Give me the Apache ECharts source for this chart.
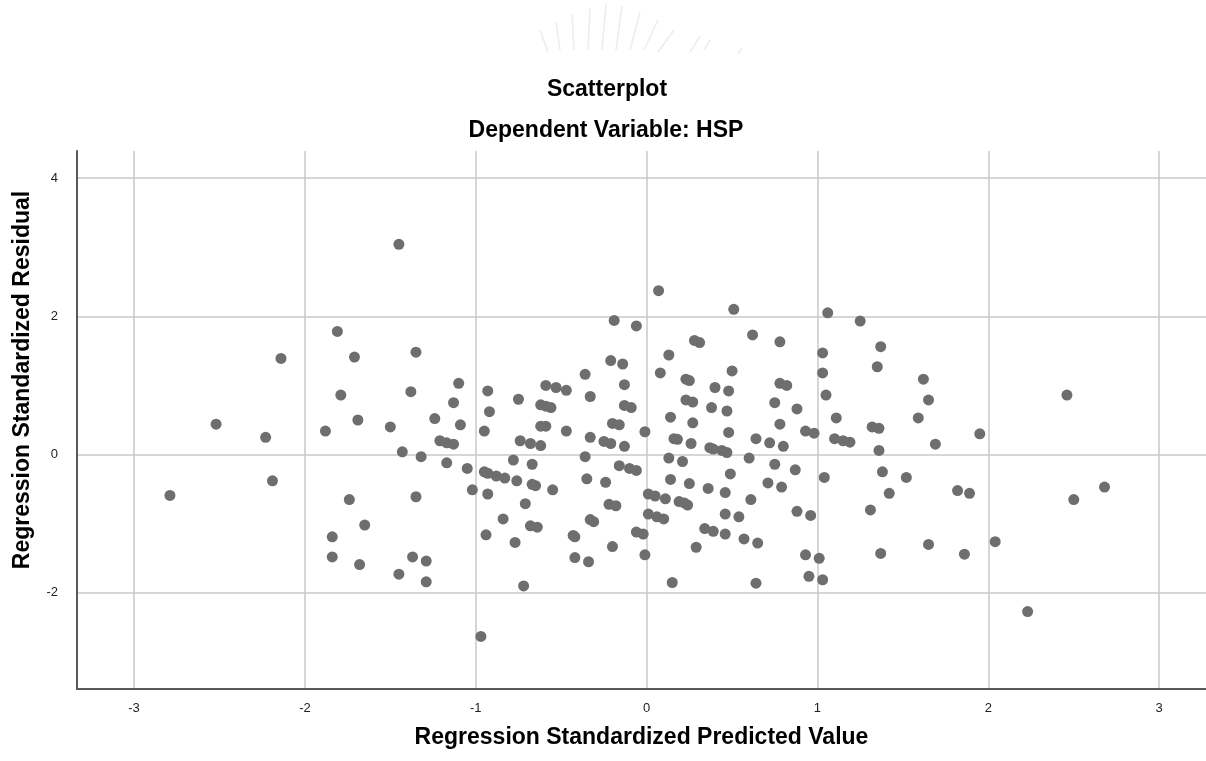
<!DOCTYPE html>
<html>
<head>
<meta charset="utf-8">
<title>Scatterplot</title>
<script src="https://cdn.jsdelivr.net/npm/echarts@6/dist/echarts.min.js"></script>
<style>
  html, body { margin: 0; padding: 0; background: #fff; }
  #chart { width: 1206px; height: 761px; }
</style>
</head>
<body>
<div id="chart"></div>
<script>
// Regression Standardized Predicted Value (x)
const predicted = [
  -1.81, -2.14, -1.71, -1.79, -1.69, -2.52, -1.88, -2.23, -2.19, -2.79,
  -1.74, -1.84, -1.84, -1.68, -1.45, -1.35, -1.38, -1.10, -1.13, -1.50,
  -1.24, -1.09, -0.19, -0.06, -0.93, -0.92, -0.75, -0.59, -0.53, -0.47,
  -0.36, -0.33, -0.21, -0.14, -0.13, -0.62, -0.59, -0.56, -0.13, -0.09,
  -0.20, -0.16, -0.59, -0.62, -0.95, -0.47, -0.33, -0.25, -0.21, -0.13,
  -0.74, -0.68, -0.62, -1.21, -1.17, -1.13, -1.43, -1.32, -1.17, -1.05,
  -0.95, -0.93, -0.88, -0.83, -0.78, -0.67, -0.76, -0.67, -0.65, -0.55,
  -1.02, -0.93, -1.35, -0.71, -0.36, -0.35, -0.24, -0.16, -0.10, -0.06,
  -0.22, -0.18, -0.33, -0.31, -1.65, -0.84, -0.68, -0.64, -0.94, -0.77,
  -0.43, -0.42, -0.20, -0.06, -0.02, -1.37, -1.29, -1.45, -1.29, -0.42,
  -0.34, -0.72, -0.97, 0.07, 0.51, 1.06, 1.25, 0.28, 0.31, 0.62,
  0.78, 0.13, 0.08, 0.23, 0.25, 0.50, 0.40, 0.48, 0.78, 0.82,
  1.03, 1.37, 1.35, 1.03, 1.05, 0.23, 0.27, 0.38, 0.47, 0.75,
  0.88, 0.14, 0.27, 0.78, 1.11, 1.32, 1.36, 1.59, 1.62, -0.01,
  0.48, 0.93, 0.98, 0.16, 0.18, 0.26, 0.37, 0.39, 0.44, 0.47,
  0.64, 0.72, 0.80, 1.10, 1.15, 1.19, 1.36, 0.13, 0.21, 0.14,
  0.25, 0.36, 0.49, 0.46, 0.60, 0.61, 0.71, 0.79, 0.75, 0.87,
  1.04, 1.38, 1.52, 1.42, 1.31, 0.01, 0.05, 0.11, 0.19, 0.22,
  0.24, 0.01, 0.06, 0.10, 0.46, 0.54, 0.88, 0.96, 0.34, 0.39,
  0.46, 0.57, 0.65, 0.29, -0.01, 0.93, 1.01, 1.37, 0.95, 1.03,
  0.15, 0.64, 1.65, 2.46, 1.95, 1.69, 1.82, 1.89, 2.68, 2.50,
  1.65, 1.86, 2.04, 2.23
]

// Regression Standardized Residual (y)
const residual = [
  1.78, 1.39, 1.41, 0.86, 0.50, 0.44, 0.34, 0.25, -0.38, -0.59,
  -0.65, -1.19, -1.48, -1.59, 3.04, 1.48, 0.91, 1.03, 0.75, 0.40,
  0.52, 0.43, 1.94, 1.86, 0.92, 0.62, 0.80, 1.00, 0.97, 0.93,
  1.16, 0.84, 1.36, 1.31, 1.01, 0.72, 0.70, 0.68, 0.71, 0.68,
  0.45, 0.43, 0.41, 0.41, 0.34, 0.34, 0.25, 0.19, 0.16, 0.12,
  0.20, 0.16, 0.13, 0.20, 0.17, 0.15, 0.04, -0.03, -0.12, -0.20,
  -0.25, -0.27, -0.31, -0.34, -0.08, -0.14, -0.38, -0.43, -0.45, -0.51,
  -0.51, -0.57, -0.61, -0.71, -0.03, -0.35, -0.40, -0.16, -0.20, -0.23,
  -0.72, -0.74, -0.94, -0.97, -1.02, -0.93, -1.03, -1.05, -1.16, -1.27,
  -1.17, -1.19, -1.33, -1.12, -1.15, -1.48, -1.54, -1.73, -1.84, -1.49,
  -1.55, -1.90, -2.63, 2.37, 2.10, 2.05, 1.93, 1.65, 1.62, 1.73,
  1.63, 1.44, 1.18, 1.09, 1.07, 1.21, 0.97, 0.92, 1.03, 1.00,
  1.47, 1.56, 1.27, 1.18, 0.86, 0.79, 0.76, 0.68, 0.63, 0.75,
  0.66, 0.54, 0.46, 0.44, 0.53, 0.40, 0.38, 0.53, 1.09, 0.33,
  0.32, 0.34, 0.31, 0.23, 0.22, 0.16, 0.10, 0.08, 0.06, 0.03,
  0.23, 0.17, 0.12, 0.23, 0.20, 0.18, 0.06, -0.05, -0.10, -0.36,
  -0.42, -0.49, -0.28, -0.55, -0.05, -0.65, -0.41, -0.47, -0.14, -0.22,
  -0.33, -0.25, -0.33, -0.56, -0.80, -0.57, -0.60, -0.64, -0.68, -0.70,
  -0.73, -0.86, -0.90, -0.93, -0.86, -0.90, -0.82, -0.88, -1.07, -1.11,
  -1.15, -1.22, -1.28, -1.34, -1.45, -1.45, -1.50, -1.43, -1.76, -1.81,
  -1.85, -1.86, 0.79, 0.86, 0.30, 0.15, -0.52, -0.56, -0.47, -0.65,
  -1.30, -1.44, -1.26, -2.27
]

const xTicks = [-3, -2, -1, 0, 1, 2, 3]
const yTicks = [-2, 0, 2, 4]

const fontFamily = '"Liberation Sans", Arial, sans-serif'

// faint watermark strokes at the top (background decoration only)
const watermark = [
  [[548, 52], [540, 30]], [[560, 50], [556, 22]], [[574, 50], [572, 14]],
  [[588, 50], [590, 8]], [[602, 50], [606, 4]], [[616, 50], [622, 6]],
  [[630, 50], [640, 12]], [[644, 50], [658, 20]], [[658, 52], [674, 30]],
  [[690, 52], [700, 36]], [[704, 50], [710, 40]], [[738, 54], [742, 48]]
].map(pts => ({
  type: 'polyline',
  silent: true,
  shape: { points: pts },
  style: { stroke: '#ececec', lineWidth: 1.5 }
}))

const chart = echarts.init(document.getElementById('chart'))

chart.setOption({
  animation: false,
  backgroundColor: '#ffffff',
  title: [
    {
      text: 'Scatterplot',
      left: 607,
      top: 90,
      padding: 0,
      textAlign: 'center',
      textVerticalAlign: 'middle',
      textStyle: { fontFamily, fontSize: 23, fontWeight: 'bold', color: '#000' }
    },
    {
      text: 'Dependent Variable: HSP',
      left: 606,
      top: 131,
      padding: 0,
      textAlign: 'center',
      textVerticalAlign: 'middle',
      textStyle: { fontFamily, fontSize: 23, fontWeight: 'bold', color: '#000' }
    }
  ],
  grid: {
    left: 77,
    right: 0,
    top: 151,
    bottom: 72,
    outerBoundsMode: 'none'
  },
  xAxis: {
    type: 'value',
    min: -3.334,
    max: 3.274,
    name: 'Regression Standardized Predicted Value',
    nameLocation: 'middle',
    nameGap: 37,
    nameTextStyle: { fontFamily, fontSize: 23, fontWeight: 'bold', color: '#000' },
    axisLine: { show: true, onZero: false, lineStyle: { color: '#5a5a5a', width: 2 } },
    axisTick: { show: false, customValues: xTicks },
    axisLabel: { customValues: xTicks, margin: 13, fontFamily, fontSize: 13, color: '#222' },
    splitLine: { show: true, lineStyle: { color: '#c8c8c8', width: 1.5 } }
  },
  yAxis: {
    type: 'value',
    min: -3.39,
    max: 4.39,
    axisLine: { show: true, onZero: false, lineStyle: { color: '#5a5a5a', width: 2 } },
    axisTick: { show: false, customValues: yTicks },
    axisLabel: { customValues: yTicks, margin: 19, fontFamily, fontSize: 13, color: '#222' },
    splitLine: { show: true, lineStyle: { color: '#c8c8c8', width: 1.5 } }
  },
  graphic: watermark.concat([
    {
      type: 'text',
      x: 23,
      y: 380,
      rotation: Math.PI / 2,
      style: {
        text: 'Regression Standardized Residual',
        font: 'bold 23px ' + fontFamily,
        fill: '#000',
        align: 'center',
        verticalAlign: 'middle'
      }
    }
  ]),
  series: [
    {
      type: 'scatter',
      symbol: 'circle',
      symbolSize: 11,
      data: predicted.map((x, i) => [x, residual[i]]),
      itemStyle: { color: '#6e6e6e', opacity: 1 }
    }
  ]
})
</script>
</body>
</html>
